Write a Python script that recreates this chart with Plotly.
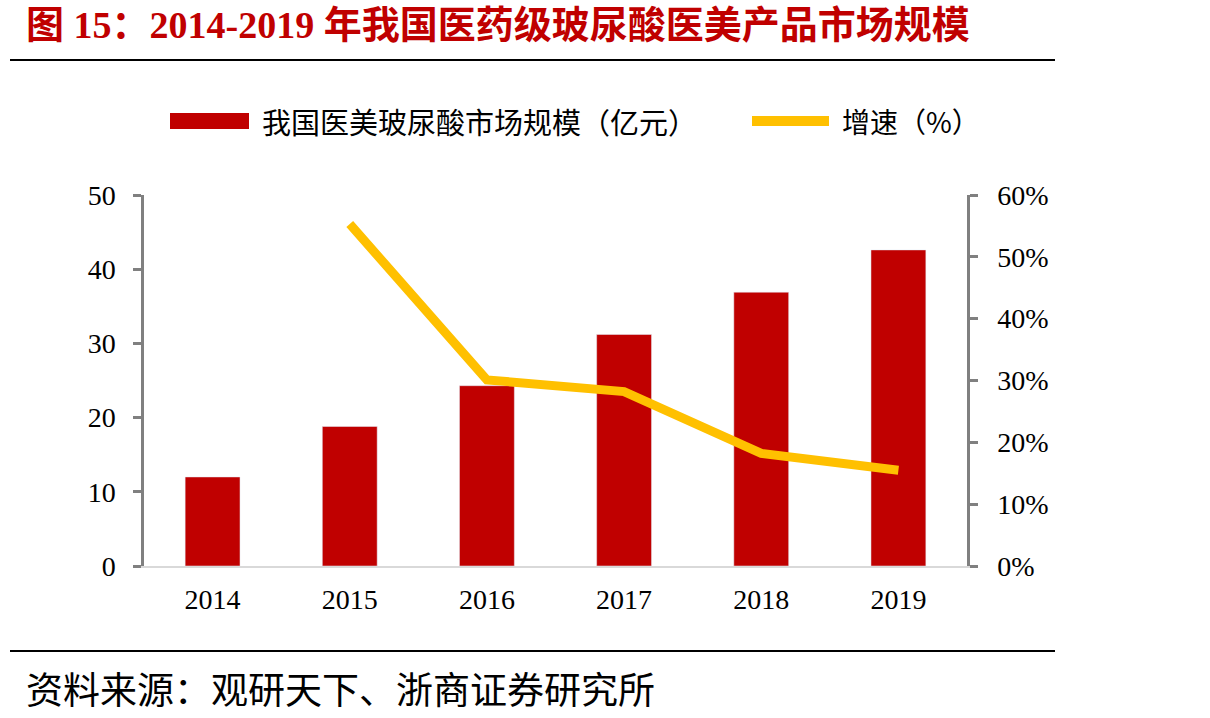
import plotly.graph_objects as go

years = ["2014", "2015", "2016", "2017", "2018", "2019"]
market_size = [12.0, 18.8, 24.3, 31.2, 36.9, 42.6]
growth = [None, 0.553, 0.301, 0.282, 0.182, 0.155]

title_text = "图 15：2014-2019 年我国医药级玻尿酸医美产品市场规模"
bar_name = "我国医美玻尿酸市场规模（亿元）"
line_name = "增速（%）"
source_text = "资料来源：观研天下、浙商证券研究所"

W, H = 1210, 718
L, R, T, B = 144, 967, 195, 566

def px(x):
    return (x - L) / (R - L)

def py(y):
    return (B - y) / (B - T)

RED = "#c00000"
YEL = "#ffc000"
SERIF = "Liberation Serif, Times New Roman, Noto Sans CJK SC, serif"
CJK = "Noto Sans CJK SC, sans-serif"
TICK = 28

fig = go.Figure()
fig.add_trace(go.Bar(x=years, y=market_size, name=bar_name, marker=dict(color=RED),
                     width=0.4, yaxis="y"))
fig.add_trace(go.Scatter(x=years, y=growth, name=line_name, mode="lines",
                         line=dict(color=YEL, width=9), yaxis="y2", connectgaps=False))

fig.update_layout(
    width=W, height=H,
    margin=dict(l=L, r=W - R, t=T, b=H - B),
    paper_bgcolor="white", plot_bgcolor="white",
    showlegend=False,
    font=dict(family=SERIF, size=TICK, color="black"),
    xaxis=dict(showline=True, linecolor="#d9d9d9", linewidth=2, ticks="",
               showgrid=False, ticklabelstandoff=7,
               tickfont=dict(family=SERIF, size=TICK, color="black")),
    yaxis=dict(range=[0, 50], dtick=10, showline=True, linecolor="#808080", linewidth=2.5,
               ticks="outside", ticklen=8, tickwidth=2.5, tickcolor="#808080",
               showgrid=False, zeroline=False, ticklabelstandoff=12,
               tickfont=dict(family=SERIF, size=TICK, color="black")),
    yaxis2=dict(range=[0, 0.6], dtick=0.1, tickformat=".0%", overlaying="y", side="right",
                showline=True, linecolor="#808080", linewidth=2.5,
                ticks="outside", ticklen=8, tickwidth=2.5, tickcolor="#808080",
                showgrid=False, zeroline=False, ticklabelstandoff=14,
                tickfont=dict(family=SERIF, size=TICK, color="black")),
)

shapes = [
    dict(type="line", xref="paper", yref="paper", x0=px(10), x1=px(1055), y0=py(60), y1=py(60),
         line=dict(color="black", width=2)),
    dict(type="line", xref="paper", yref="paper", x0=px(10), x1=px(1055), y0=py(651), y1=py(651),
         line=dict(color="black", width=2)),
    dict(type="rect", xref="paper", yref="paper", x0=px(170), x1=px(249), y0=py(129), y1=py(113),
         fillcolor=RED, line=dict(width=0)),
    dict(type="line", xref="paper", yref="paper", x0=px(752), x1=px(829), y0=py(121), y1=py(121),
         line=dict(color=YEL, width=10)),
]
fig.update_layout(shapes=shapes)

annotations = [
    dict(text="<b>" + title_text + "</b>", xref="paper", yref="paper", x=px(24), y=py(25),
         xanchor="left", yanchor="middle", showarrow=False,
         font=dict(family=SERIF, size=38, color=RED)),
    dict(text=bar_name, xref="paper", yref="paper", x=px(260), y=py(121),
         xanchor="left", yanchor="middle", showarrow=False,
         font=dict(family=CJK, size=29, color="black")),
    dict(text=line_name, xref="paper", yref="paper", x=px(840), y=py(121),
         xanchor="left", yanchor="middle", showarrow=False,
         font=dict(family=CJK, size=28, color="black")),
    dict(text=source_text, xref="paper", yref="paper", x=px(24), y=py(688),
         xanchor="left", yanchor="middle", showarrow=False,
         font=dict(family=CJK, size=37, color="black")),
]
fig.update_layout(annotations=annotations)

fig.write_html("out.html")
